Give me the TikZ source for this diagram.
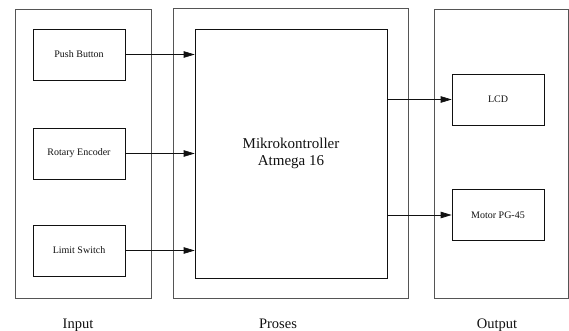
\documentclass[tikz,border=0pt]{standalone}
\usepackage{fontspec}
\setmainfont{Liberation Serif}
\usetikzlibrary{arrows.meta,positioning}
\definecolor{bdgray}{HTML}{555555}
\definecolor{bdink}{HTML}{111111}
\tikzset{
  group/.style={rectangle,draw=bdgray,line width=.8pt,inner sep=0pt},
  block/.style={rectangle,draw=bdink,line width=.7pt,minimum width=92pt,minimum height=51pt,font=\fontsize{10}{12}\selectfont,text=bdink},
  mcu/.style={rectangle,draw=bdink,line width=.7pt,minimum width=192pt,minimum height=249pt,font=\fontsize{15}{17}\selectfont,align=center,text=bdink},
  sig/.style={-{Triangle[length=11pt,width=6.5pt]},draw=bdink,line width=.7pt},
  caption/.style={font=\fontsize{14.5}{17}\selectfont,text=bdink,anchor=base},
}
\begin{document}
\begin{tikzpicture}[x=1pt,y=-1pt]
  \useasboundingbox (0,0) rectangle (569,331);

  % three stages
  \node[group,minimum width=136pt,minimum height=289pt] (inp) at (83,153.5) {};
  \node[group,minimum width=235pt,minimum height=290pt] (pro) at (290.5,153) {};
  \node[group,minimum width=134pt,minimum height=289pt] (outp) at (501,153.5) {};

  \node[block] (pb) at (79,54.5) {Push Button};
  \node[block] (re) at (79,153.5) {Rotary Encoder};
  \node[block] (ls) at (79,250.5) {Limit Switch};

  \node[mcu] (mc) at (291,153.5) {Mikrokontroller\\Atmega 16};

  \node[block] (lcd) at (498,99.5) {LCD};
  \node[block] (mot) at (498,215) {Motor PG-45};

  \draw[sig] (pb) -- (pb -| mc.west);
  \draw[sig] (re) -- (re -| mc.west);
  \draw[sig] (ls) -- (ls -| mc.west);
  \draw[sig] (mc.east |- lcd) -- (lcd);
  \draw[sig] (mc.east |- mot) -- (mot);

  \node[caption] (capi) at (78,328) {Input};
  \node[caption] (capp) at (278,328) {Proses};
  \node[caption] (capo) at (497,328) {Output};
\end{tikzpicture}
\end{document}
